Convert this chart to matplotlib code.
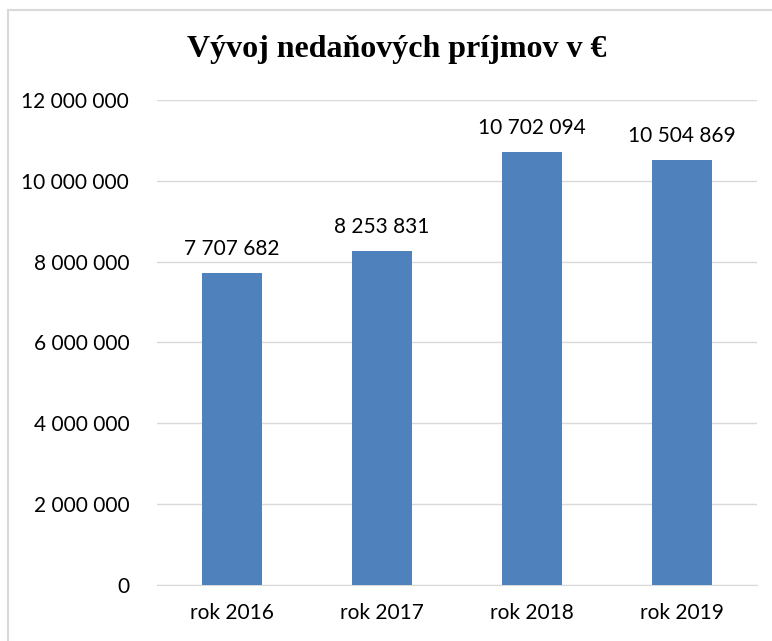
import matplotlib
matplotlib.use("Agg")
import matplotlib.pyplot as plt
from matplotlib.patches import Rectangle
from matplotlib.ticker import FuncFormatter

categories = ["rok 2016", "rok 2017", "rok 2018", "rok 2019"]
values = [7707682, 8253831, 10702094, 10504869]
title = "Vývoj nedaňových príjmov v €"
yticks = [0, 2000000, 4000000, 6000000, 8000000, 10000000, 12000000]

W, H = 772, 641
fig = plt.figure(figsize=(W/100, H/100), dpi=100)

# outer chart border (light gray, partly cut by the page edge)
fig.patches.append(Rectangle((8/W, -0.05), 1.2, (H-10)/H + 0.05, transform=fig.transFigure,
                             fill=False, edgecolor="#d9d9d9", linewidth=1.5))
fig.text(738/W, 1.012, "Graf", fontsize=15, fontweight="bold", family="Liberation Serif",
         ha="left", va="center", color="black")

ax = fig.add_axes([157/W, 1-585/H, 600/W, (585-100)/H])
x = range(len(categories))
bars = ax.bar(x, values, width=0.4, color="#4f81bd", zorder=3)
ax.set_xlim(-0.5, 3.5)
ax.set_ylim(0, 12000000)
ax.set_yticks(yticks)
ax.yaxis.set_major_formatter(FuncFormatter(lambda v, p: f"{int(v):,}".replace(",", " ")))
ax.set_xticks(list(x))
ax.set_xticklabels(categories)
ax.grid(axis="y", color="#d9d9d9", linewidth=1, zorder=0)
for s in ["top", "right", "left"]:
    ax.spines[s].set_visible(False)
ax.spines["bottom"].set_color("#d9d9d9")
ax.tick_params(length=0, labelsize=15)
ax.tick_params(axis="x", pad=13)
ax.tick_params(axis="y", pad=20)
for lab in ax.get_xticklabels() + ax.get_yticklabels():
    lab.set_family("Lato")

for xi, v in zip(x, values):
    ax.annotate(f"{v:,}".replace(",", " "), (xi, v), xytext=(0, 13), textcoords="offset points",
                ha="center", va="baseline", fontsize=15, family="Lato")

fig.text(397/W, 1-49/H, title, ha="center", va="center", fontsize=23, fontweight="bold",
         family="Liberation Serif")

fig.savefig("out.png", dpi=100)
